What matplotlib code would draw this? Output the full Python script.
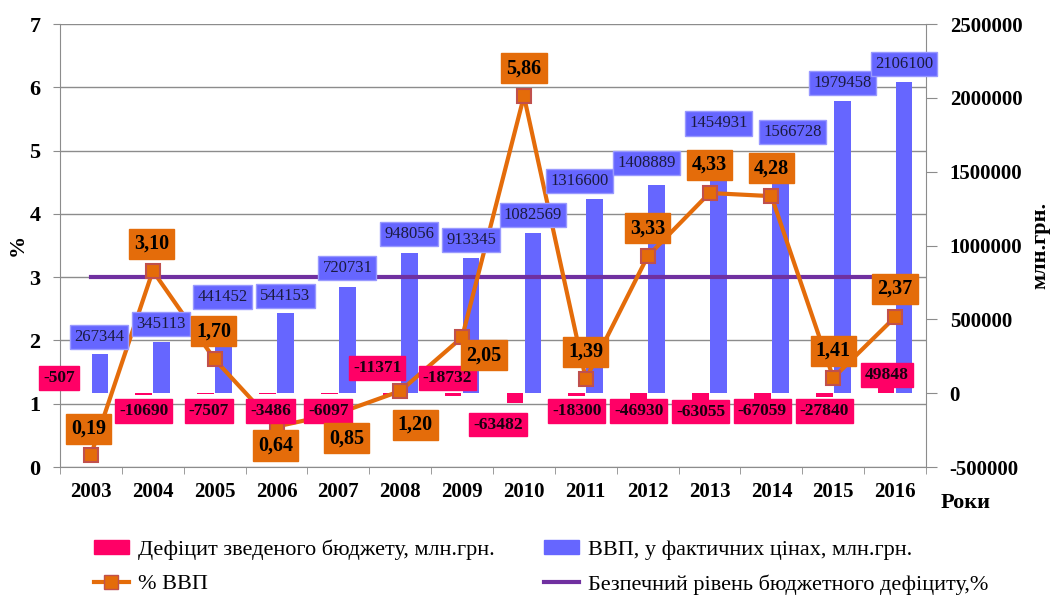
import numpy as np
import matplotlib
matplotlib.use("Agg")
import matplotlib.pyplot as plt
from matplotlib.patches import Patch
from matplotlib.lines import Line2D
from matplotlib.ticker import FuncFormatter, MultipleLocator

plt.rcParams["font.family"] = ["Liberation Serif", "DejaVu Serif"]

years = ["2003", "2004", "2005", "2006", "2007", "2008", "2009",
         "2010", "2011", "2012", "2013", "2014", "2015", "2016"]
deficit = [-507, -10690, -7507, -3486, -6097, -11371, -18732,
           -63482, -18300, -46930, -63055, -67059, -27840, 49848]
gdp = [267344, 345113, 441452, 544153, 720731, 948056, 913345,
       1082569, 1316600, 1408889, 1454931, 1566728, 1979458, 2106100]
pct_gdp = [0.19, 3.10, 1.70, 0.64, 0.85, 1.20, 2.05,
           5.86, 1.39, 3.33, 4.33, 4.28, 1.41, 2.37]
safe_level = [3] * len(years)

# label offsets in pixels (dx, dy) relative to the mark
gdp_off = [(-1, 17), (-1, 18), (-1, 31), (0, 17), (0, 19), (0, 19), (0, 18),
           (0, 18), (-15, 18), (-10, 22), (0, 55), (12, 30), (0, 18), (0, 18)]
def_off = [(-23, 15), (0, -16), (3, -17), (3, -17), (-1, -17), (-14, 27), (-6, 18),
           (-17, -22), (0, -15), (0, -11), (0, -9), (0, -8), (0, -14), (1, 11)]
pct_off = [(-2, 26), (-1, 27), (-1, 28), (-1, -19), (8, -25), (15, -34), (22, -18),
           (0, 28), (0, 27), (0, 28), (0, 28), (0, 28), (0, 27), (0, 28)]

PINK = "#FF0066"
BLUE = "#6666FF"
ORANGE = "#E46C0A"
PURPLE = "#7030A0"
GRID = "#8C8C8C"

x = np.arange(len(years))

fig = plt.figure(figsize=(10.51, 5.96), dpi=100)
ax = fig.add_axes([0.0571, 0.2164, 0.8240, 0.7433])
ax2 = ax.twinx()
ax3 = ax.twinx()

# left axis: % with grid
ax.set_xlim(-0.5, len(years) - 0.5)
ax.set_ylim(0, 7)
ax.yaxis.set_major_locator(MultipleLocator(1))
ax.yaxis.grid(True, color=GRID, lw=1)
ax.set_axisbelow(True)
ax.set_xticks(x)
ax.set_xticklabels(years, fontsize=15, fontweight="bold")
ax.set_xticks(np.arange(-0.5, len(years)), minor=True)
ax.tick_params(axis="x", which="major", length=0, pad=11)
ax.tick_params(axis="x", which="minor", length=5, color=GRID, direction="out")
ax.tick_params(axis="y", length=5, color=GRID, labelsize=16, pad=9)
for lab in ax.get_yticklabels():
    lab.set_fontweight("bold")
for s in ["top", "right"]:
    ax.spines[s].set_visible(False)
for s in ["left", "bottom"]:
    ax.spines[s].set_color(GRID)

# right axis: bars
ax2.bar(x - 0.145, deficit, width=0.27, color=PINK, zorder=2)
ax2.bar(x + 0.145, gdp, width=0.27, color=BLUE, zorder=2)
ax2.set_ylim(-500000, 2500000)
ax2.yaxis.set_major_locator(MultipleLocator(500000))
ax2.yaxis.set_major_formatter(FuncFormatter(lambda v, p: f"{int(round(v))}"))
ax2.tick_params(axis="y", length=8, color=GRID, labelsize=15, pad=9)
for lab in ax2.get_yticklabels():
    lab.set_fontweight("bold")
for s in ["top", "left", "bottom"]:
    ax2.spines[s].set_visible(False)
ax2.spines["right"].set_color(GRID)

# top axis: lines (same scale as left)
ax3.set_ylim(0, 7)
ax3.set_yticks([])
for s in ax3.spines.values():
    s.set_visible(False)
ax3.plot(x, safe_level, color=PURPLE, lw=3, zorder=3)
ax3.plot(x, pct_gdp, color=ORANGE, lw=3, marker="s", markersize=10.5,
         markerfacecolor=ORANGE, markeredgecolor="#C0504D", markeredgewidth=1.5, zorder=4)

for i in x:
    ax3.annotate(f"{gdp[i]}", xy=(i + 0.145, gdp[i]), xycoords=ax2.transData,
                 xytext=gdp_off[i], textcoords="offset pixels",
                 ha="center", va="center", fontsize=12, color="#1A1A40", zorder=5,
                 bbox=dict(boxstyle="square,pad=0.25", fc=BLUE, ec="#9999FF", lw=1))
    ax3.annotate(f"{deficit[i]}", xy=(i - 0.145, deficit[i]), xycoords=ax2.transData,
                 xytext=def_off[i], textcoords="offset pixels",
                 ha="center", va="center", fontsize=12.5, fontweight="bold", color="#1A0010",
                 zorder=5,
                 bbox=dict(boxstyle="square,pad=0.22", fc=PINK, ec=PINK, lw=1))
    ax3.annotate(f"{pct_gdp[i]:.2f}".replace(".", ","), xy=(i, pct_gdp[i]),
                 xytext=pct_off[i], textcoords="offset pixels",
                 ha="center", va="center", fontsize=14.5, fontweight="bold", color="black",
                 zorder=6,
                 bbox=dict(boxstyle="square,pad=0.25", fc=ORANGE, ec=ORANGE, lw=1))

fig.text(18 / 1051, 1 - 245 / 596, "%", rotation=90, fontsize=16, fontweight="bold",
         ha="center", va="center")
fig.text(1040 / 1051, 1 - 245 / 596, "млн.грн.", rotation=90, fontsize=16,
         fontweight="bold", ha="center", va="center")
fig.text(966 / 1051, 1 - 503 / 596, "Роки", fontsize=16, fontweight="bold",
         ha="center", va="center")

handles = [
    Patch(color=PINK, label="Дефіцит зведеного бюджету, млн.грн."),
    Line2D([], [], color=ORANGE, lw=3, marker="s", markersize=10, markerfacecolor=ORANGE,
           markeredgecolor="#C0504D", label="% ВВП"),
    Patch(color=BLUE, label="ВВП, у фактичних цінах, млн.грн."),
    Line2D([], [], color=PURPLE, lw=3, label="Безпечний рівень бюджетного дефіциту,%"),
]
fig.legend(handles=handles, ncol=2, loc="center", bbox_to_anchor=(541 / 1051, 1 - 567 / 596),
           frameon=False, fontsize=16, handlelength=1.6, handleheight=0.6,
           handletextpad=0.4, columnspacing=2.2, labelspacing=0.65)

fig.savefig("out.png", dpi=100)
